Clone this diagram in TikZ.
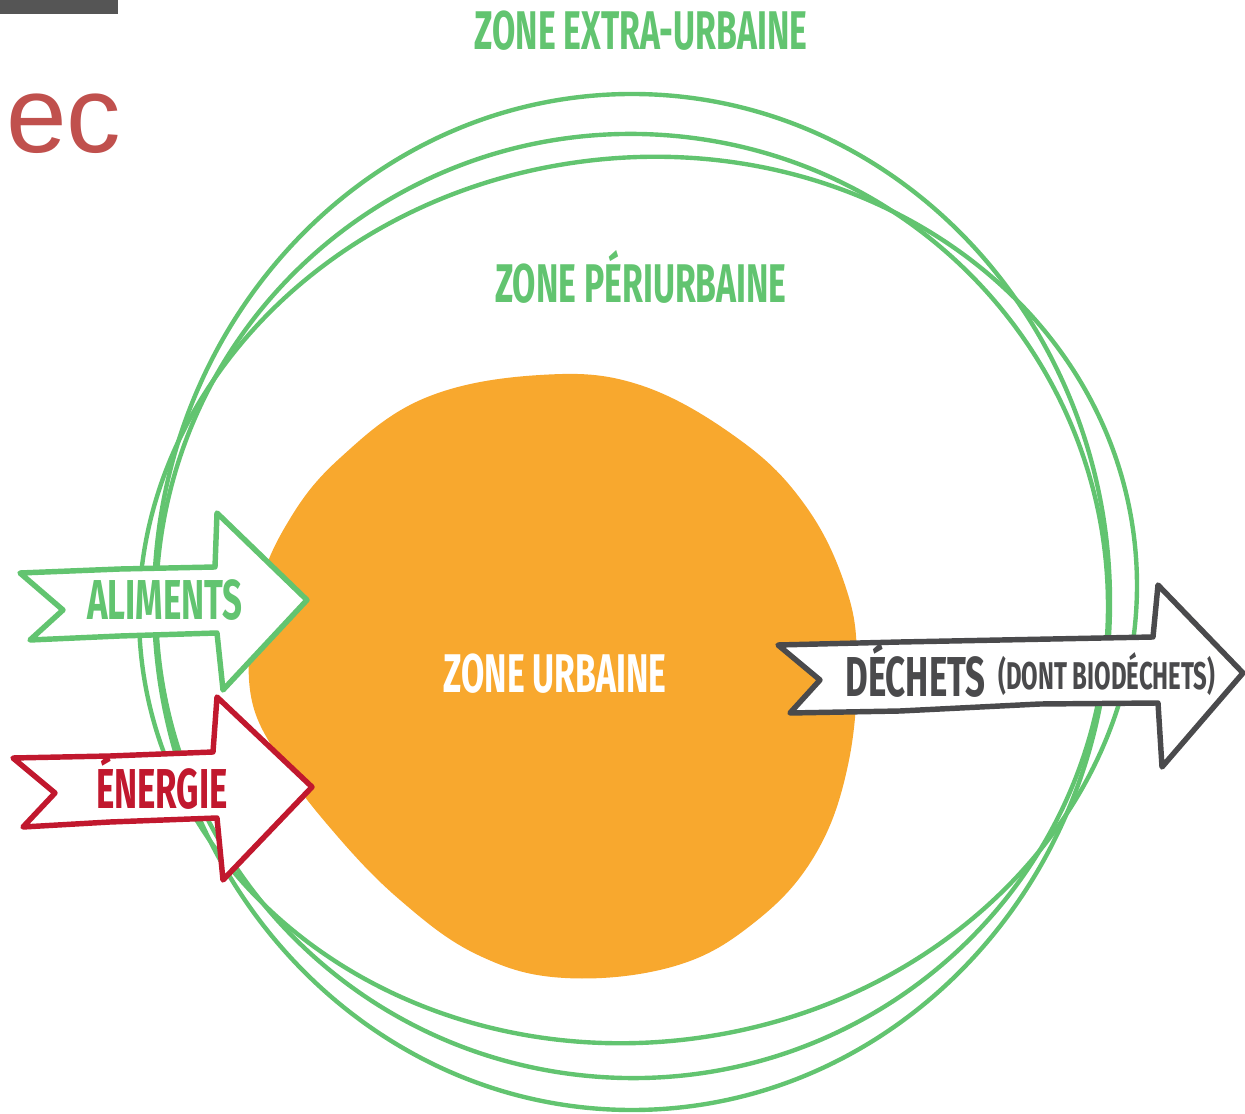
\documentclass[tikz,border=0pt]{standalone}
\usepackage{fontspec}
\setmainfont{Liberation Sans}
\newfontfamily\zonefont{Fira Sans}[FakeStretch=0.62]
\definecolor{zonegreen}{RGB}{98,196,112}
\definecolor{flowred}{RGB}{193,24,46}
\definecolor{flowgrey}{RGB}{74,74,76}
\definecolor{urbanorange}{RGB}{248,168,46}
\definecolor{ecred}{RGB}{192,80,77}
\definecolor{bargrey}{RGB}{85,85,85}

\begin{document}
\begin{tikzpicture}[x=0.02cm, y=-0.02cm,
        ring/.style = {draw=zonegreen, line width=2.5pt},
        flow/.style = {fill=white, line width=3.1pt, line join=round},
        every node/.style = {inner sep=0pt, anchor=base},
        zone/.style = {font=\zonefont\bfseries\fontsize{31}{31}\selectfont},
        label/.style = {font=\zonefont\bfseries\fontsize{32}{32}\selectfont}]
    \useasboundingbox (0,0) rectangle (1245,1114);
    \fill[bargrey] (0,0) rectangle (118,14);
    \node[anchor=base west, text=ecred, font=\fontsize{62}{62}\selectfont] (ec) at (6,153) {ec};

    \draw[ring] (632,602) ellipse [x radius=478, y radius=508];
    \draw[ring, rotate around={-6:(632,606)}] (632,606) ellipse [x radius=476, y radius=472];
    \draw[ring, rotate around={8:(638,600)}] (638,600) ellipse [x radius=500, y radius=442];

    \fill[urbanorange] plot[smooth cycle, tension=0.65] coordinates {
        (540,375) (640,385) (740,440) (805,505) (845,585) (857,660) (848,765)
        (815,855) (755,922) (675,966) (565,978) (478,955) (400,900) (332,830)
        (280,760) (250,690) (258,595) (288,522) (340,458) (425,398)};

    \draw[flow, draw=zonegreen] (20,573) -- (120,569) -- (215,567) -- (217,513) -- (307,600)
        -- (223,690) -- (217,633) -- (120,636) -- (30,640) -- (63,610) -- cycle;
    \draw[flow, draw=flowred] (13,758) -- (110,756) -- (213,752) -- (217,697) -- (312,787)
        -- (223,880) -- (217,818) -- (110,822) -- (23,827) -- (55,793) -- cycle;
    \draw[flow, draw=flowgrey] (778,645) -- (900,642) -- (1153,637) -- (1158,585) -- (1243,673)
        -- (1162,767) -- (1158,703) -- (1040,704) -- (900,711) -- (790,713) -- (820,680) -- cycle;

    \node[zone, text=zonegreen] (extra) at (641,50) {ZONE EXTRA-URBAINE};
    \node[zone, text=zonegreen] (peri) at (641,303) {ZONE PÉRIURBAINE};
    \node[zone, text=white] (urbaine) at (555,693) {ZONE URBAINE};
    \node[label, text=zonegreen] (aliments) at (165,620) {ALIMENTS};
    \node[label, text=flowred] (energie) at (162,808) {ÉNERGIE};
    \node[label, text=flowgrey, anchor=base west] (dechets) at (845,697) {DÉCHETS};
    \node[zone, text=flowgrey, anchor=base west, font=\zonefont\bfseries\fontsize{22}{22}\selectfont]
        (biodechets) at (998,690) {(DONT BIODÉCHETS)};
\end{tikzpicture}
\end{document}
